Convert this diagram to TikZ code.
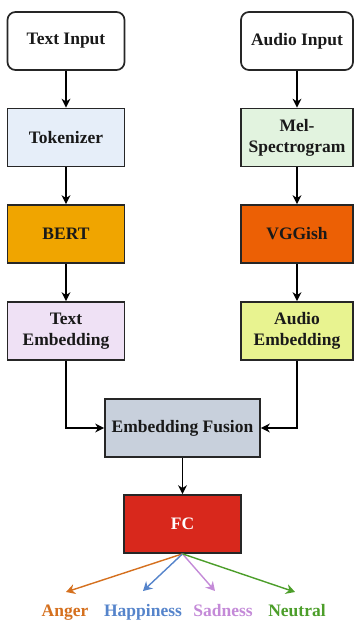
\documentclass[tikz,border=0pt]{standalone}
\usepackage{fontspec}
\setmainfont{Liberation Serif}
\usetikzlibrary{arrows.meta}
\definecolor{ctok}{HTML}{E6EEF9}
\definecolor{cmel}{HTML}{E2F3DF}
\definecolor{cbert}{HTML}{F0A500}
\definecolor{cvgg}{HTML}{EC6005}
\definecolor{ctemb}{HTML}{EFE1F5}
\definecolor{caemb}{HTML}{E8F390}
\definecolor{cfus}{HTML}{C8D0DC}
\definecolor{cfc}{HTML}{D8281C}
\definecolor{canger}{HTML}{D5701E}
\definecolor{chap}{HTML}{5584CB}
\definecolor{csad}{HTML}{C48AD8}
\definecolor{cneu}{HTML}{4C9E2A}
\tikzset{
  box/.style={draw=black!85, line width=1.7pt, minimum height=58pt, align=center,
    font=\fontsize{17.5}{21}\selectfont\bfseries, text=black!90, inner sep=2pt},
  inbox/.style={box, rounded corners=8pt, fill=white},
  arr/.style={line width=1.7pt, -{Stealth[length=9pt,width=9pt]}},
  carr/.style={line width=1.4pt, -{Stealth[length=9pt,width=10pt]}},
  lab/.style={font=\fontsize{17.5}{21}\selectfont\bfseries, inner sep=0pt, anchor=base}
}
\begin{document}
\begin{tikzpicture}[x=1pt,y=-1pt]
\useasboundingbox[fill=white] (0,0) rectangle (354,620);
\node[inbox, minimum width=117pt] (ti) at (66,41) {Text Input};
\node[inbox, minimum width=112pt] (ai) at (297,41) {Audio Input};
\node[box, minimum width=117pt, fill=ctok] (tok) at (66,137.5) {Tokenizer};
\node[box, minimum width=112pt, fill=cmel] (mel) at (297,137.5) {Mel-\\Spectrogram};
\node[box, minimum width=117pt, fill=cbert] (bert) at (66,234) {BERT};
\node[box, minimum width=112pt, fill=cvgg] (vgg) at (297,234) {VGGish};
\node[box, minimum width=117pt, fill=ctemb] (temb) at (66,331) {Text\\Embedding};
\node[box, minimum width=112pt, fill=caemb] (aemb) at (297,331) {Audio\\Embedding};
\node[box, minimum width=155pt, fill=cfus] (fus) at (182.5,428) {Embedding Fusion};
\node[box, minimum width=117pt, fill=cfc, text=white] (fc) at (182.5,524) {FC};
\node[lab, text=canger] (anger) at (65,616) {Anger};
\node[lab, text=chap] (hap) at (143,616) {Happiness};
\node[lab, text=csad] (sad) at (223,616) {Sadness};
\node[lab, text=cneu] (neu) at (297,616) {Neutral};
\coordinate (ta) at (66,592);
\coordinate (th) at (143,591);
\coordinate (ts) at (215,591);
\coordinate (tn) at (295,592);
\draw[arr] (ti) -- (tok);
\draw[arr] (tok) -- (bert);
\draw[arr] (bert) -- (temb);
\draw[arr] (ai) -- (mel);
\draw[arr] (mel) -- (vgg);
\draw[arr] (vgg) -- (aemb);
\draw[arr] (temb.south) |- (fus.west);
\draw[arr] (aemb.south) |- (fus.east);
\draw[arr] (fus) -- (fc);
\draw[carr, draw=canger] (fc.south) -- (ta);
\draw[carr, draw=chap] (fc.south) -- (th);
\draw[carr, draw=csad] (fc.south) -- (ts);
\draw[carr, draw=cneu] (fc.south) -- (tn);
\end{tikzpicture}
\end{document}
